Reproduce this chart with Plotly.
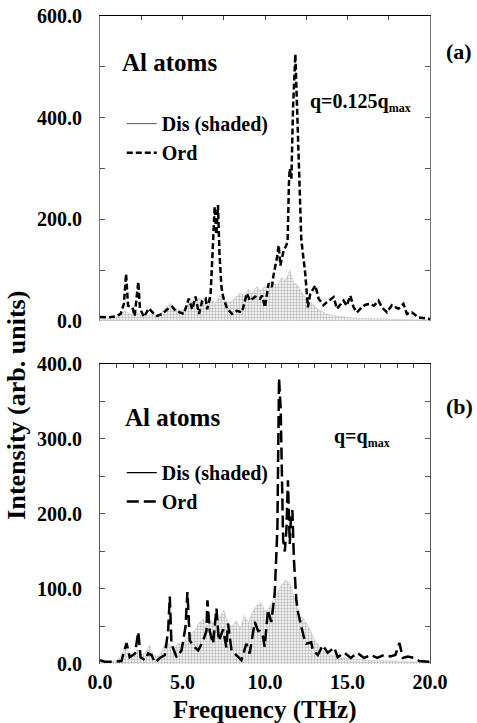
import plotly.graph_objects as go

# ---------------- data ----------------
# Panel (a): q = 0.125 q_max
DIS_A_FREQ = [0.0, 0.25, 0.5, 0.75, 1.0, 1.25, 1.5, 1.75, 2.0, 2.25, 2.5, 2.75, 3.0, 3.25, 3.5, 3.75,
              4.0, 4.25, 4.5, 4.75, 5.0, 5.25, 5.5, 5.75, 6.0, 6.25, 6.5, 6.75, 7.0, 7.25, 7.5, 7.75,
              8.0, 8.25, 8.5, 8.75, 9.0, 9.25, 9.5, 9.75, 10.0, 10.25, 10.5, 10.75, 11.0, 11.25, 11.5, 11.75,
              12.0, 12.25, 12.5, 12.75, 13.0, 13.25, 13.5, 13.75, 14.0, 14.25, 14.5, 14.75, 15.0, 15.25, 15.5, 15.75,
              16.0, 16.25, 16.5, 16.75, 17.0, 17.25, 17.5, 17.75, 18.0, 18.25, 18.5, 18.75, 19.0, 19.25, 19.5, 19.75, 20.0]
DIS_A_VAL = [5, 4, 5, 6, 8, 12, 20, 15, 12, 18, 10, 8, 12, 15, 10, 18,
             25, 35, 28, 22, 20, 30, 40, 32, 45, 38, 30, 42, 35, 50, 45, 35,
             40, 48, 55, 50, 62, 55, 68, 60, 70, 65, 75, 70, 85, 80, 100, 75,
             70, 55, 45, 38, 30, 22, 18, 14, 12, 10, 9, 8, 7, 6, 6, 5,
             5, 5, 4, 5, 4, 4, 4, 3, 4, 3, 3, 3, 3, 3, 3, 2, 2]

ORD_A_FREQ = [0.0, 0.5, 0.95, 1.25, 1.45, 1.58, 1.7, 1.96, 2.1, 2.32, 2.42, 2.66, 2.97, 3.18, 3.47, 3.77,
              4.08, 4.38, 4.58, 4.88, 5.08, 5.38, 5.59, 5.79, 6.0, 6.2, 6.4, 6.5, 6.7, 6.8, 6.95, 7.05,
              7.15, 7.24, 7.36, 7.46, 7.7, 8.0, 8.3, 8.6, 8.9, 9.1, 9.4, 9.7, 9.82, 10.0, 10.22, 10.42,
              10.5, 10.73, 10.83, 10.93, 11.13, 11.25, 11.37, 11.45, 11.5, 11.6, 11.7, 11.84, 12.0, 12.12,
              12.2, 12.44, 12.6, 12.74, 13.05, 13.25, 13.55, 13.75, 14.16, 14.36, 14.76, 14.95, 15.17, 15.37,
              15.57, 15.87, 16.1, 16.38, 16.6, 16.88, 17.08, 17.39, 17.69, 18.09, 18.39, 18.6, 18.9, 19.3,
              19.6, 19.9, 20.0]
ORD_A_VAL = [8, 7, 9, 14, 34, 93, 30, 27, 10, 77, 25, 8, 25, 17, 10, 14,
             23, 28, 20, 17, 14, 44, 23, 48, 14, 40, 44, 23, 51, 119, 225, 170,
             228, 133, 67, 48, 24, 14, 20, 17, 54, 40, 48, 44, 50, 27, 74, 67,
             87, 126, 149, 109, 139, 146, 156, 270, 300, 280, 420, 525, 380, 250,
             160, 93, 27, 53, 70, 44, 31, 37, 47, 24, 40, 30, 50, 27,
             17, 27, 32, 34, 30, 40, 27, 17, 31, 24, 34, 14, 17, 7,
             6, 5, 4]

# Panel (b): q = q_max
DIS_B_FREQ = DIS_A_FREQ
DIS_B_VAL = [3, 2, 3, 3, 5, 10, 22, 15, 10, 20, 12, 15, 25, 12, 10, 18,
             30, 25, 22, 28, 25, 35, 40, 45, 55, 60, 50, 58, 52, 62, 72, 55,
             50, 58, 48, 65, 55, 70, 78, 82, 70, 75, 85, 95, 105, 112, 108, 90,
             70, 62, 55, 45, 32, 25, 18, 14, 12, 10, 9, 8, 7, 6, 6, 6,
             5, 5, 5, 5, 4, 4, 4, 4, 4, 3, 3, 3, 3, 3, 3, 3, 2]

ORD_B_FREQ = [0.0, 0.3, 0.9, 1.3, 1.5, 1.61, 1.8, 2.12, 2.32, 2.46, 2.72, 2.92, 3.12, 3.33, 3.63, 3.93,
              4.13, 4.23, 4.33, 4.64, 4.94, 5.18, 5.3, 5.44, 5.75, 5.95, 6.25, 6.45, 6.51, 6.65, 6.85, 7.06,
              7.2, 7.46, 7.66, 7.76, 7.97, 8.27, 8.57, 8.87, 9.07, 9.38, 9.58, 9.68, 9.88, 9.98, 10.18, 10.38,
              10.59, 10.75, 10.85, 10.95, 11.1, 11.2, 11.3, 11.39, 11.5, 11.58, 11.66, 11.75, 11.9, 12.0,
              12.2, 12.35, 12.5, 12.8, 12.9, 13.2, 13.5, 13.8, 14.2, 14.4, 14.8, 15.2, 15.6, 16.0,
              16.4, 16.8, 17.2, 17.6, 17.9, 18.15, 18.35, 18.65, 19.06, 19.35, 19.9, 20.0]
ORD_B_VAL = [5, 3, 3, 4, 20, 28, 9, 14, 43, 9, 5, 14, 12, 2, 8, 12,
             45, 90, 27, 9, 18, 49, 96, 31, 22, 18, 31, 44, 85, 44, 27, 74,
             31, 46, 22, 54, 18, 12, 5, 27, 14, 56, 44, 44, 36, 23, 72, 56,
             94, 180, 381, 340, 165, 150, 180, 245, 160, 200, 205, 140, 85, 69,
             50, 36, 27, 29, 18, 12, 25, 15, 22, 9, 15, 8, 15, 8,
             12, 8, 12, 10, 12, 28, 8, 10, 8, 4, 3, 3]

# ---------------- figure ----------------
FONT = "Liberation Serif"
fig = go.Figure()

stipple = dict(shape=".", fgcolor="#7a7a7a", bgcolor="white", size=3, solidity=0.5)

# panel (a)
fig.add_trace(go.Scatter(x=DIS_A_FREQ, y=DIS_A_VAL, mode="lines", fill="tozeroy",
                         line=dict(color="#c0c0c0", width=0.5), fillpattern=stipple,
                         showlegend=False, xaxis="x", yaxis="y"))
fig.add_trace(go.Scatter(x=ORD_A_FREQ, y=ORD_A_VAL, mode="lines",
                         line=dict(color="black", width=2.5, dash="6px,3px"),
                         showlegend=False, xaxis="x", yaxis="y"))
fig.add_trace(go.Scatter(x=[None], y=[None], mode="lines", name="Dis (shaded)",
                         line=dict(color="#555", width=1), legend="legend", xaxis="x", yaxis="y"))
fig.add_trace(go.Scatter(x=[None], y=[None], mode="lines", name="Ord",
                         line=dict(color="black", width=2.5, dash="6px,3px"), legend="legend",
                         xaxis="x", yaxis="y"))

# panel (b)
fig.add_trace(go.Scatter(x=DIS_B_FREQ, y=DIS_B_VAL, mode="lines", fill="tozeroy",
                         line=dict(color="#c0c0c0", width=0.5), fillpattern=stipple,
                         showlegend=False, xaxis="x2", yaxis="y2"))
fig.add_trace(go.Scatter(x=ORD_B_FREQ, y=ORD_B_VAL, mode="lines",
                         line=dict(color="black", width=2.5, dash="12px,5px"),
                         showlegend=False, xaxis="x2", yaxis="y2"))
fig.add_trace(go.Scatter(x=[None], y=[None], mode="lines", name="Dis (shaded)",
                         line=dict(color="black", width=1.2), legend="legend2", xaxis="x2", yaxis="y2"))
fig.add_trace(go.Scatter(x=[None], y=[None], mode="lines", name="Ord",
                         line=dict(color="black", width=2.5, dash="12px,5px"), legend="legend2",
                         xaxis="x2", yaxis="y2"))
# dummy trace to activate the top frame axis of panel (b)
fig.add_trace(go.Scatter(x=[None], y=[None], xaxis="x3", yaxis="y2", showlegend=False))

tickfont = dict(family=FONT, size=20, color="black", weight="bold")

DOM_A = [0.5293, 1.0]
DOM_B = [0.0, 0.463]

fig.update_layout(
    width=477, height=723,
    margin=dict(l=100, r=46.5, t=16, b=59, autoexpand=False),
    paper_bgcolor="white", plot_bgcolor="white",
    xaxis=dict(domain=[0, 1], anchor="y", range=[0, 20], side="top", showline=True,
               linecolor="black", linewidth=1, ticks="inside", ticklen=4, dtick=2.5,
               tick0=0, showticklabels=False, showgrid=False, zeroline=False, automargin=False),
    yaxis=dict(domain=DOM_A, anchor="x", range=[0, 600], tick0=0, dtick=200, tickformat=".1f",
               minor=dict(dtick=100, ticks="inside", ticklen=5, tickcolor="#555", showgrid=False),
               showline=True, mirror="ticks", linecolor="#777", linewidth=1, ticks="inside",
               ticklen=5, tickcolor="#555", showgrid=False, zeroline=False, tickfont=tickfont,
               ticklabelstandoff=13, automargin=False),
    xaxis2=dict(domain=[0, 1], anchor="y2", range=[0, 20], tick0=0, dtick=5, tickformat=".1f",
                showline=False, ticks="", showgrid=False, zeroline=False, tickfont=tickfont,
                ticklabelstandoff=4, automargin=False),
    xaxis3=dict(overlaying="x2", anchor="y2", range=[0, 20], side="top", showline=True,
                linecolor="black", linewidth=1, ticks="inside", ticklen=4, dtick=1, tick0=0,
                showticklabels=False, showgrid=False, zeroline=False, automargin=False),
    yaxis2=dict(domain=DOM_B, anchor="x2", range=[0, 400], tick0=0, dtick=100, tickformat=".1f",
                minor=dict(dtick=50, ticks="inside", ticklen=5, tickcolor="#555", showgrid=False),
                showline=True, mirror="ticks", linecolor="#555", linewidth=1, ticks="inside",
                ticklen=5, tickcolor="#555", showgrid=False, zeroline=False, tickfont=tickfont,
                ticklabelstandoff=13, automargin=False),
    legend=dict(x=0.066, y=0.864, xanchor="left", yanchor="top", bgcolor="rgba(0,0,0,0)",
                font=dict(family=FONT, size=20, color="black", weight="bold"),
                tracegroupgap=0, itemwidth=30),
    legend2=dict(x=0.066, y=0.3255, xanchor="left", yanchor="top", bgcolor="rgba(0,0,0,0)",
                 font=dict(family=FONT, size=20, color="black", weight="bold"),
                 tracegroupgap=0, itemwidth=30),
    showlegend=True,
)

bold = dict(family=FONT, color="black", weight="bold")
SUB = "<sub><span style='font-size:12px'>max</span></sub>"
ann = [
    dict(text="(a)", x=1.089, y=0.945, size=22),
    dict(text="Al atoms", x=0.212, y=0.929, size=25),
    dict(text="q=0.125q" + SUB, x=0.79, y=0.867, size=20),
    dict(text="(b)", x=1.089, y=0.398, size=22),
    dict(text="Al atoms", x=0.221, y=0.380, size=25),
    dict(text="q=q" + SUB, x=0.793, y=0.350, size=20),
    dict(text="Frequency (THz)", x=0.5, y=-0.071, size=25),
]
for a in ann:
    fig.add_annotation(text=a["text"], x=a["x"], y=a["y"], xref="paper", yref="paper",
                       showarrow=False, xanchor="center", yanchor="middle",
                       font=dict(size=a["size"], **bold))
fig.add_annotation(text="Intensity (arb. units)", x=-0.2526, y=0.3997, xref="paper", yref="paper",
                   showarrow=False, textangle=-90, xanchor="center", yanchor="middle",
                   font=dict(size=26, **bold))

fig.write_html("out.html")
